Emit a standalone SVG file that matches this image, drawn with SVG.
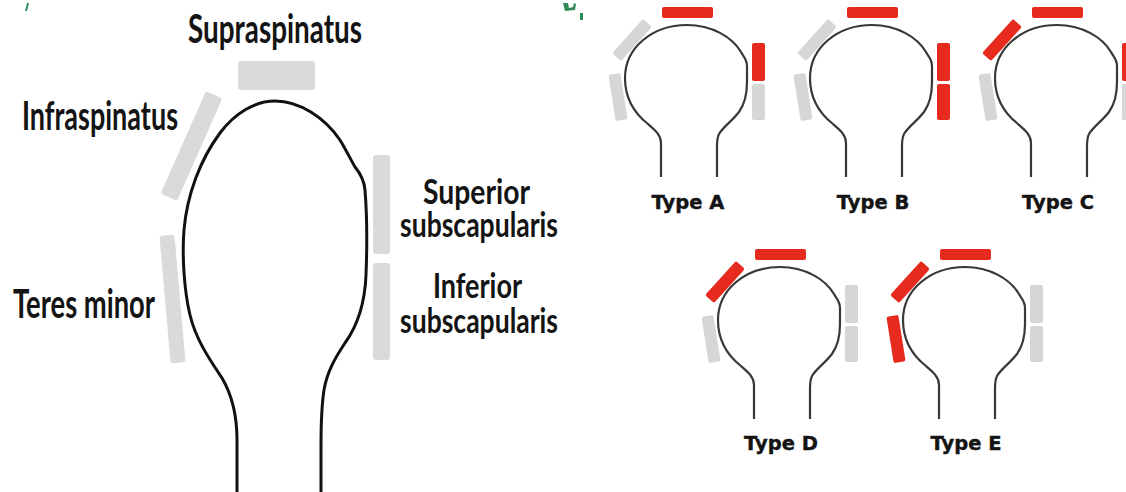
<svg xmlns="http://www.w3.org/2000/svg" xmlns:xlink="http://www.w3.org/1999/xlink" width="1126" height="492" viewBox="0 0 1126 492">
  <style>
    .bone { fill: none; stroke: #111; stroke-width: 3; stroke-linejoin: round; stroke-linecap: butt; }
    .bone-s { fill: none; stroke: #383838; stroke-width: 2.2; stroke-linejoin: round; }
    .muscle { fill: #dadada; }
    .grey { fill: #d6d6d6; }
    .torn { fill: #e62a1e; }
    .lbl { font-family: "Lato", "Open Sans", "Liberation Sans", sans-serif; font-weight: bold; fill: #141414; }
    .big { font-size: 40px; }
    .mid { font-size: 34px; }
    .type { font-family: "DejaVu Sans", "Liberation Sans", sans-serif; font-weight: bold; font-size: 19.5px; fill: #141414; stroke: #141414; stroke-width: 0.4; text-anchor: middle; }
    .mark { fill: #2f8a5a; }
  </style>
  <defs>
    <!-- small humeral head outline, drawn in the frame of the first sketch -->
    <path id="head" class="bone-s" d="M661,177 L661,143 C661,135 655,130 648,124 C634,113 625,98 625,78 C625,48 652,25 687,25 C712,25 732,37 741,52 C743,56 747,59 747,66 L747,82 C747,96 744,105 739,112 C732,121 723,127 719,134 C717,138 717,142 717,147 L717,177"/>
    <rect id="top" x="662" y="7" width="51" height="11" rx="2"/>
    <rect id="infra" x="626" y="17" width="12" height="46" rx="2" transform="rotate(42 632 40)"/>
    <rect id="teres" x="612" y="73.5" width="12" height="47" rx="2" transform="rotate(-9 618 97)"/>
    <rect id="subsup" x="752" y="43" width="13" height="38" rx="2"/>
    <rect id="subinf" x="752" y="84" width="13" height="36" rx="2"/>
  </defs>

  <rect width="1126" height="492" fill="#ffffff"/>

  <!-- stray marks along the top edge -->
  <path class="mark" d="M27,3 L29,3 L27,11 L25,11 Z"/>
  <path class="mark" d="M563,3 L568,3 L569,8 L573,7 L574,3 L576,4 L575,10 L565,11 Z"/>
  <rect class="mark" x="580" y="13" width="3" height="7"/>

  <!-- large labelled humeral head -->
  <g id="anatomy">
    <path id="humerus" class="bone" d="M237,492 L237,440 C237,415 232,395 222,378 C210,360 196,340 190,315 C184,290 182,255 184,230 C187,195 200,160 220,133 C235,113 255,101 275,101 C300,101 325,118 340,140 C346,150 351,160 355,167 C360,173 364,179 365,190 C367,215 367,250 366,275 C365,300 358,325 345,343 C335,358 327,372 324,390 C321,410 321,430 321,445 L321,492"/>
    <g id="supraspinatus">
      <rect class="muscle" x="238" y="61" width="77" height="29" rx="3"/>
      <text class="lbl big" x="188" y="43" textLength="174" lengthAdjust="spacingAndGlyphs">Supraspinatus</text>
    </g>
    <g id="infraspinatus">
      <rect class="muscle" x="182.5" y="90" width="18" height="112" rx="3" transform="rotate(23.8 191.5 146)"/>
      <text class="lbl big" x="22" y="130" textLength="156" lengthAdjust="spacingAndGlyphs">Infraspinatus</text>
    </g>
    <g id="teres-minor">
      <rect class="muscle" x="165" y="235" width="15" height="128" rx="3" transform="rotate(-5 172.5 299)"/>
      <text class="lbl big" x="13" y="318" textLength="142" lengthAdjust="spacingAndGlyphs">Teres minor</text>
    </g>
    <g id="superior-subscapularis">
      <rect class="muscle" x="373" y="155" width="17" height="99" rx="3"/>
      <text class="lbl mid" x="423" y="204" textLength="107" lengthAdjust="spacingAndGlyphs">Superior</text>
      <text class="lbl mid" x="400" y="237" textLength="158" lengthAdjust="spacingAndGlyphs">subscapularis</text>
    </g>
    <g id="inferior-subscapularis">
      <rect class="muscle" x="373" y="263" width="17" height="97" rx="3"/>
      <text class="lbl mid" x="433" y="298" textLength="89" lengthAdjust="spacingAndGlyphs">Inferior</text>
      <text class="lbl mid" x="400" y="333" textLength="158" lengthAdjust="spacingAndGlyphs">subscapularis</text>
    </g>
  </g>

  <!-- tear pattern types -->
  <g id="type-a">
    <use xlink:href="#top" class="torn"/>
    <use xlink:href="#infra" class="grey"/>
    <use xlink:href="#teres" class="grey"/>
    <use xlink:href="#subsup" class="torn"/>
    <use xlink:href="#subinf" class="grey"/>
    <use xlink:href="#head"/>
    <text class="type" x="688" y="209">Type A</text>
  </g>
  <g id="type-b" transform="translate(185,0)">
    <use xlink:href="#top" class="torn"/>
    <use xlink:href="#infra" class="grey"/>
    <use xlink:href="#teres" class="grey"/>
    <use xlink:href="#subsup" class="torn"/>
    <use xlink:href="#subinf" class="torn"/>
    <use xlink:href="#head"/>
    <text class="type" x="688" y="209">Type B</text>
  </g>
  <g id="type-c" transform="translate(370,0)">
    <use xlink:href="#top" class="torn"/>
    <use xlink:href="#infra" class="torn"/>
    <use xlink:href="#teres" class="grey"/>
    <use xlink:href="#subsup" class="torn"/>
    <use xlink:href="#subinf" class="grey"/>
    <use xlink:href="#head"/>
    <text class="type" x="688" y="209">Type C</text>
  </g>
  <g id="type-d" transform="translate(93,242)">
    <use xlink:href="#top" class="torn"/>
    <use xlink:href="#infra" class="torn"/>
    <use xlink:href="#teres" class="grey"/>
    <use xlink:href="#subsup" class="grey"/>
    <use xlink:href="#subinf" class="grey"/>
    <use xlink:href="#head"/>
    <text class="type" x="688" y="208">Type D</text>
  </g>
  <g id="type-e" transform="translate(278,242)">
    <use xlink:href="#top" class="torn"/>
    <use xlink:href="#infra" class="torn"/>
    <use xlink:href="#teres" class="torn"/>
    <use xlink:href="#subsup" class="grey"/>
    <use xlink:href="#subinf" class="grey"/>
    <use xlink:href="#head"/>
    <text class="type" x="688" y="208">Type E</text>
  </g>
</svg>
